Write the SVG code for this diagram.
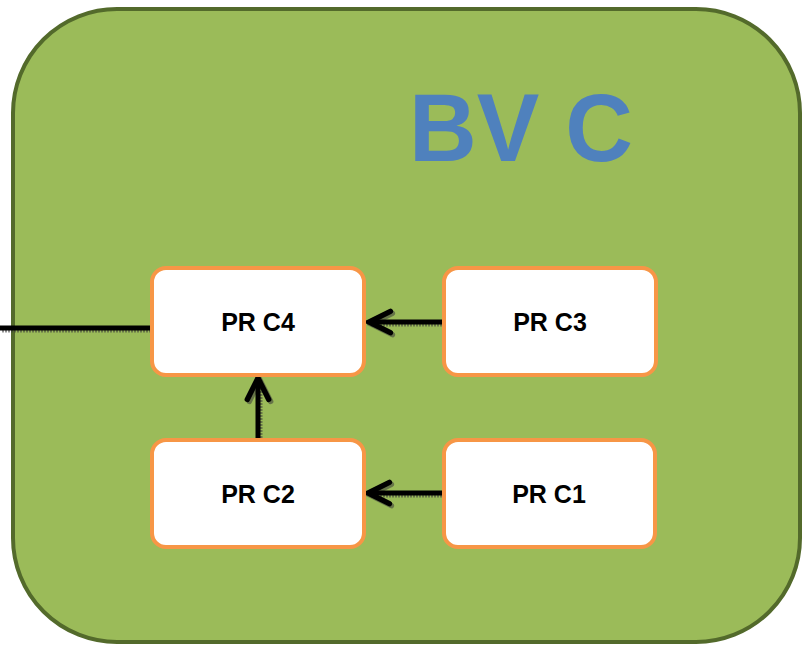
<svg xmlns="http://www.w3.org/2000/svg" width="811" height="646" viewBox="0 0 811 646">
<defs>
<style>
.frame{fill:#9BBB59;stroke:#536A2B;stroke-width:4}
.box{fill:#FFFFFF;stroke:#F79646;stroke-width:4}
.lbl{font-family:"Liberation Sans",Arial,sans-serif;font-weight:bold;font-size:25px;fill:#000;text-anchor:middle}
.title{font-family:"Liberation Sans",Arial,sans-serif;font-weight:bold;font-size:97px;fill:#4F81BD}
.ln{fill:none;stroke:#000;stroke-width:5}
.sh{fill:none;stroke:#3a3a3a;stroke-width:5;stroke-opacity:0.55;stroke-dasharray:2 1}
</style>
<marker id="ah" markerUnits="userSpaceOnUse" markerWidth="30" markerHeight="30" viewBox="-24 -14 28 28" refX="0" refY="0" orient="auto">
<path d="M-20,-10 L0,0 L-20,10" fill="none" stroke="#000" stroke-width="5" stroke-linecap="round" stroke-linejoin="miter"/>
</marker>
<marker id="ahs" markerUnits="userSpaceOnUse" markerWidth="30" markerHeight="30" viewBox="-24 -14 28 28" refX="0" refY="0" orient="auto">
<path d="M-20,-10 L0,0 L-20,10" fill="none" stroke="#3a3a3a" stroke-opacity="0.55" stroke-width="5" stroke-linecap="round"/>
</marker>
</defs>
<g id="frame">
<rect class="frame" x="13" y="9" width="787" height="633" rx="104" ry="104"/>
<text class="title" x="409" y="161" textLength="224" lengthAdjust="spacingAndGlyphs">BV C</text>
</g>
<g id="connectors">
<g transform="translate(2,2)">
<line class="sh" x1="0" y1="328" x2="150" y2="328"/>
<line class="sh" x1="443" y1="322" x2="369" y2="322" marker-end="url(#ahs)"/>
<line class="sh" x1="258" y1="442" x2="258" y2="378" marker-end="url(#ahs)"/>
<line class="sh" x1="443" y1="493" x2="368" y2="493" marker-end="url(#ahs)"/>
</g>
<line class="ln" x1="0" y1="328" x2="152" y2="328"/>
<line class="ln" x1="443" y1="322" x2="369" y2="322" marker-end="url(#ah)"/>
<line class="ln" x1="258" y1="442" x2="258" y2="378" marker-end="url(#ah)"/>
<line class="ln" x1="443" y1="493" x2="368" y2="493" marker-end="url(#ah)"/>
</g>
<g id="prc4">
<rect class="box" x="152" y="268" width="212" height="107" rx="14"/>
<text class="lbl" x="258" y="331">PR C4</text>
</g>
<g id="prc3">
<rect class="box" x="444" y="268" width="212" height="107" rx="14"/>
<text class="lbl" x="550" y="331">PR C3</text>
</g>
<g id="prc2">
<rect class="box" x="152" y="440" width="212" height="107" rx="14"/>
<text class="lbl" x="258" y="503">PR C2</text>
</g>
<g id="prc1">
<rect class="box" x="444" y="440" width="211" height="107" rx="14"/>
<text class="lbl" x="549" y="503">PR C1</text>
</g>
</svg>
